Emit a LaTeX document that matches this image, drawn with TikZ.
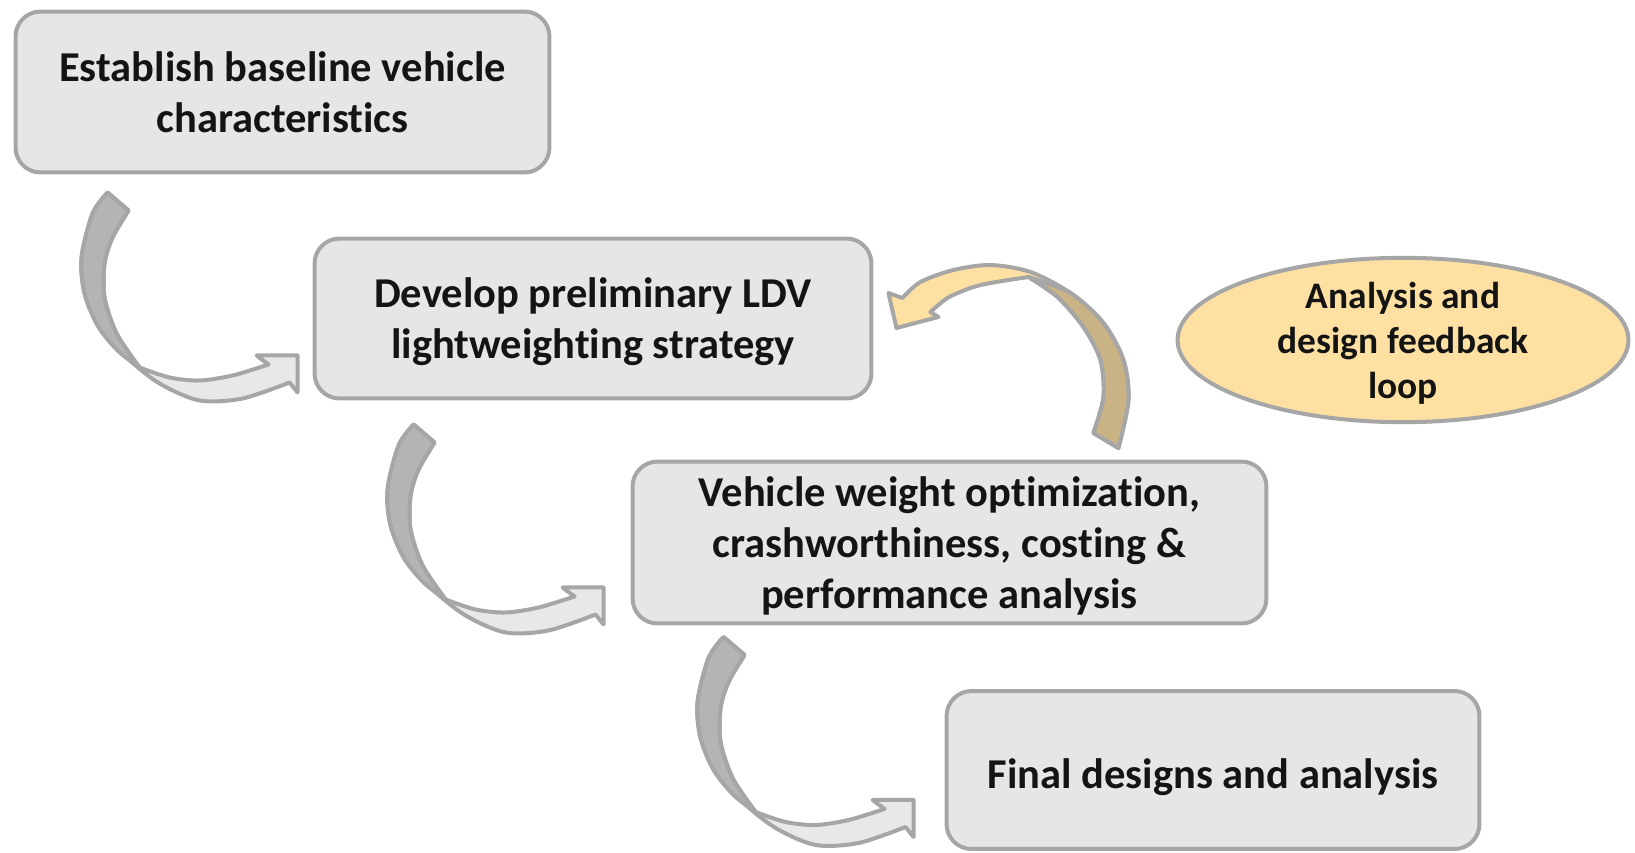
\documentclass[tikz,border=0pt]{standalone}
\usepackage{fontspec}
\setmainfont{Carlito}[Ligatures=NoCommon]
\usetikzlibrary{calc,shapes.geometric}

\definecolor{boxfill}{HTML}{E6E6E6}
\definecolor{boxline}{HTML}{A6A6A6}
\definecolor{bandback}{HTML}{B4B4B4}
\definecolor{bandfront}{HTML}{E8E8E8}
\definecolor{loopfront}{HTML}{FDE0A2}
\definecolor{loopback}{HTML}{C9B384}
\definecolor{inktext}{HTML}{141414}

\tikzset{
  bendarrow/.pic={
    % front band with head
    \filldraw[fill=bandfront, draw=boxline, line width=0.08cm, line join=round]
      plot[smooth] coordinates {(-190,-163) (-205,-142) (-216,-98) (-213,-62) (-198,-28) (-171,2) (-138,28) (-98,45) (-55,43) (-8,27)}
      -- (0,37) -- (0,0) -- (-41,0)
      -- plot[smooth] coordinates {(-29,9) (-65,20) (-98,25) (-128,22) (-158,12)}
      -- plot[smooth] coordinates {(-158,12) (-181,-22) (-193,-58) (-193,-92) (-185,-118) (-169,-145)} -- cycle;
    % back band
    \filldraw[fill=bandback, draw=boxline, line width=0.08cm, line join=round]
      (-169,-145) -- plot[smooth] coordinates {(-190,-163) (-205,-142) (-216,-98) (-213,-62) (-200,-30) (-180,-5) (-158,12)}
      -- plot[smooth] coordinates {(-158,12) (-181,-22) (-193,-58) (-193,-92) (-185,-118) (-169,-145)} -- cycle;
  },
  looparrow/.pic={
    % front band with head
    \filldraw[fill=loopfront, draw=boxline, line width=0.08cm, line join=round]
      plot[smooth] coordinates {(6,-30) (24,-46) (57,-58) (94,-63) (134,-56) (174,-35) (207,-5) (227,32) (232,72) (222,120)}
      -- (197,105)
      -- plot[smooth] coordinates {(197,105) (207,69) (204,32) (187,-1) (161,-31) (132,-51)}
      -- plot[smooth] coordinates {(132,-51) (94,-45) (74,-40) (51,-30) (34,-16)}
      -- (42,-11) -- (0,0) -- (-8,-35) -- cycle;
    % back band
    \filldraw[fill=loopback, draw=boxline, line width=0.08cm, line join=round]
      (222,120) -- (197,105)
      -- plot[smooth] coordinates {(197,105) (207,69) (204,32) (187,-1) (161,-31) (132,-51)}
      -- plot[smooth] coordinates {(132,-51) (174,-35) (207,-5) (227,32) (232,72) (222,120)} -- cycle;
  }
}

\begin{document}
\begin{tikzpicture}[x=0.02cm, y=-0.02cm]

\tikzstyle{stage} = [rectangle, rounded corners=0.5cm, draw=boxline, fill=boxfill, line width=0.08cm, align=center, text=inktext, font=\fontsize{24.2}{29}\selectfont\bfseries]
\tikzstyle{feedback} = [ellipse, draw=boxline, fill=loopfront, line width=0.08cm, align=center, text=inktext, inner sep=0pt, font=\fontsize{21.3}{25.6}\selectfont\bfseries]

\useasboundingbox (0,0) rectangle (1635,852);

\node[stage, minimum width=10.68cm, minimum height=3.22cm] (b1) at (282.5,92) {Establish baseline vehicle\\characteristics};
\node[stage, minimum width=11.14cm, minimum height=3.2cm, text depth=-1pt] (b2) at (593,318.5) {Develop preliminary LDV\\lightweighting strategy};
\node[stage, minimum width=12.68cm, minimum height=3.24cm, text depth=-2pt] (b3) at (949.5,542.5) {Vehicle weight optimization,\\crashworthiness, costing \&\\performance analysis};
\node[stage, minimum width=10.66cm, minimum height=3.16cm, text height=21.5pt, text depth=0pt] (b4) at (1213,770) {Final designs and analysis};

\node[feedback, minimum width=9.02cm, minimum height=3.22cm, text depth=-1.5pt] (loop) at (1403,340) {Analysis and\\design feedback\\loop};

\pic at ($(b2.south west)+(-15,-45)$) {bendarrow};
\pic at ($(b3.south west)+(-27,-38)$) {bendarrow};
\pic at ($(b4.south west)+(-31,-51)$) {bendarrow};
\pic at ($(b2.east)+(23,9.5)$) {looparrow};

\end{tikzpicture}
\end{document}
